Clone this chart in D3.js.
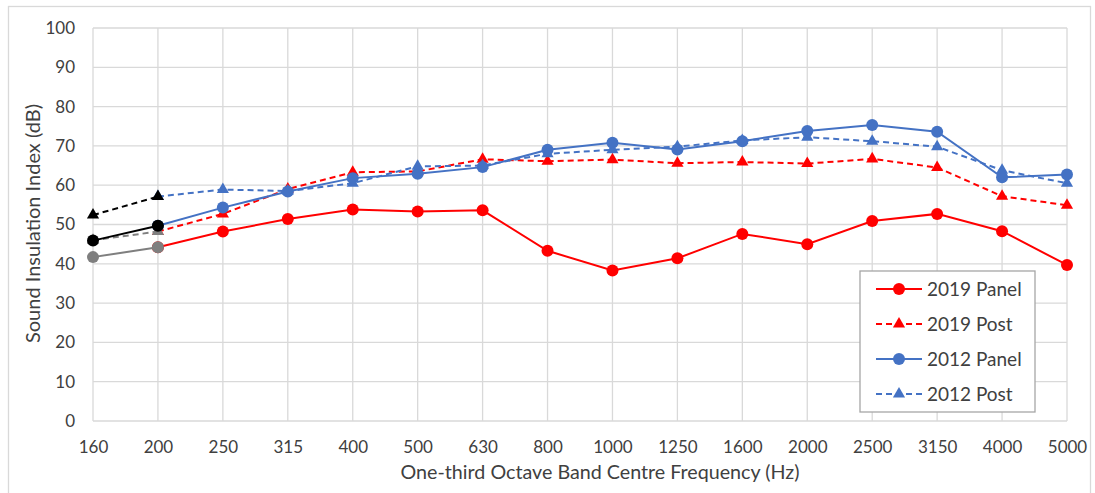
<!DOCTYPE html>
<html>
<head>
<meta charset="utf-8">
<script src="https://cdn.jsdelivr.net/npm/d3@7"></script>
<style>
	body { margin: 0; background: #fff; }
	svg { font-family: Lato, "Open Sans", sans-serif; }
	.grid line { stroke: #d9d9d9; stroke-width: 1.3; }
</style>
</head>
<body>
<svg width="1095" height="493"></svg>
<script>
// band centre frequencies (Hz)
var bands = ["160", "200", "250", "315", "400", "500", "630", "800", "1000", "1250", "1600", "2000", "2500", "3150", "4000", "5000"];
var yTicks = [0, 10, 20, 30, 40, 50, 60, 70, 80, 90, 100];

// values from 200 Hz upwards for the four legend series
var panel2019 = [44.2, 48.2, 51.4, 53.8, 53.3, 53.6, 43.3, 38.3, 41.4, 47.6, 45.0, 50.9, 52.7, 48.3, 39.7];
var post2019 = [48.2, 52.7, 59.0, 63.3, 63.5, 66.6, 66.1, 66.5, 65.6, 65.9, 65.5, 66.7, 64.5, 57.2, 54.9];
var panel2012 = [49.7, 54.3, 58.4, 61.8, 62.9, 64.6, 69.0, 70.8, 69.1, 71.2, 73.8, 75.3, 73.6, 62.0, 62.7];
var post2012 = [57.1, 58.9, 58.5, 60.5, 64.8, 65.0, 68.0, 69.0, 69.8, 71.4, 72.2, 71.2, 69.8, 63.8, 60.5];

// low-frequency extension (160-200 Hz), not in legend
var lowBands = ["160", "200"];
var lowPanelGrey = [41.7, 44.2];
var lowPostGrey = [46.0, 48.2];
var lowPanelBlack = [45.9, 49.7];
var lowPostBlack = [52.4, 57.1];

var series = [
	{ name: "2019 Panel", x: bands.slice(1), y: panel2019, color: "#ff0000", dash: null, marker: "circle", legend: true },
	{ name: "2019 Post", x: bands.slice(1), y: post2019, color: "#ff0000", dash: "6,4", marker: "triangle", legend: true },
	{ name: "2012 Panel", x: bands.slice(1), y: panel2012, color: "#4472c4", dash: null, marker: "circle", legend: true },
	{ name: "2012 Post", x: bands.slice(1), y: post2012, color: "#4472c4", dash: "6,4", marker: "triangle", legend: true },
	{ name: "grey panel", x: lowBands, y: lowPanelGrey, color: "#7f7f7f", dash: null, marker: "circle" },
	{ name: "grey post", x: lowBands, y: lowPostGrey, color: "#7f7f7f", dash: "6,4", marker: "triangle" },
	{ name: "black panel", x: lowBands, y: lowPanelBlack, color: "#000000", dash: null, marker: "circle" },
	{ name: "black post", x: lowBands, y: lowPostBlack, color: "#000000", dash: "6,4", marker: "triangle" },
];

var svg = d3.select("svg"),
	margin = {top: 28, right: 28, bottom: 72, left: 93},
	width = +svg.attr("width") - margin.left - margin.right,
	height = +svg.attr("height") - margin.top - margin.bottom;

// outer chart frame
svg.append("rect")
	.attr("x", 8.5).attr("y", 6.5)
	.attr("width", 1082).attr("height", 500)
	.attr("fill", "none").attr("stroke", "#d9d9d9").attr("stroke-width", 1.3);

var g = svg.append("g").attr("transform", "translate(" + margin.left + "," + margin.top + ")");

var x = d3.scalePoint().domain(bands).range([0, width]);
var y = d3.scaleLinear().domain([0, 100]).range([height, 0]);

// gridlines
var grid = g.append("g").attr("class", "grid");
grid.selectAll(".h").data(yTicks).enter().append("line")
	.attr("x1", 0).attr("x2", width)
	.attr("y1", function(d) { return y(d); }).attr("y2", function(d) { return y(d); });
grid.selectAll(".v").data(bands).enter().append("line")
	.attr("x1", function(d) { return x(d); }).attr("x2", function(d) { return x(d); })
	.attr("y1", 0).attr("y2", height);

// axes (text only, Excel style)
var xAxis = g.append("g")
	.attr("transform", "translate(0," + height + ")")
	.call(d3.axisBottom(x).tickSize(0).tickPadding(20));
var yAxis = g.append("g")
	.call(d3.axisLeft(y).tickValues(yTicks).tickSize(0).tickPadding(18));
[xAxis, yAxis].forEach(function(a) {
	a.select(".domain").remove();
	a.selectAll("text").attr("font-size", 17).attr("fill", "#404040")
		.attr("font-family", "Lato, 'Open Sans', sans-serif");
});

svg.append("text")
	.attr("x", 600).attr("y", 479)
	.attr("text-anchor", "middle").attr("font-size", 19.7).attr("fill", "#404040")
	.text("One-third Octave Band Centre Frequency (Hz)");
svg.append("text")
	.attr("transform", "translate(40," + (margin.top + height / 2 - 1) + ") rotate(-90)")
	.attr("text-anchor", "middle").attr("font-size", 20).attr("fill", "#404040")
	.text("Sound Insulation Index (dB)");

var triangle = d3.symbol().type(d3.symbolTriangle).size(64);

function drawMarker(sel, s) {
	if (s.marker == "circle") {
		sel.append("circle").attr("r", 6).attr("fill", s.color);
	} else {
		sel.append("path").attr("d", triangle).attr("fill", s.color);
	}
}

var line = d3.line()
	.x(function(d) { return x(d[0]); })
	.y(function(d) { return y(d[1]); });

series.forEach(function(s) {
	var pts = s.x.map(function(b, i) { return [b, s.y[i]]; });
	var sg = g.append("g");
	sg.append("path")
		.datum(pts)
		.attr("d", line)
		.attr("fill", "none")
		.attr("stroke", s.color)
		.attr("stroke-width", 2)
		.attr("stroke-dasharray", s.dash);
	sg.selectAll("g.pt").data(pts).enter().append("g")
		.attr("class", "pt")
		.attr("transform", function(d) { return "translate(" + x(d[0]) + "," + y(d[1]) + ")"; })
		.each(function() { drawMarker(d3.select(this), s); });
});

// legend
var legendSeries = series.filter(function(s) { return s.legend; });
var lg = svg.append("g").attr("transform", "translate(860,271)");
lg.append("rect")
	.attr("width", 175).attr("height", 141)
	.attr("fill", "#fff").attr("stroke", "#a6a6a6").attr("stroke-width", 1.3);
var item = lg.selectAll("g.item").data(legendSeries).enter().append("g")
	.attr("class", "item")
	.attr("transform", function(d, i) { return "translate(0," + (18 + i * 35) + ")"; });
item.append("line")
	.attr("x1", 16).attr("x2", 62)
	.attr("stroke", function(d) { return d.color; })
	.attr("stroke-width", 2)
	.attr("stroke-dasharray", function(d) { return d.dash; });
item.append("g").attr("transform", "translate(39,0)")
	.each(function(d) { drawMarker(d3.select(this), d); });
item.append("text")
	.attr("x", 67).attr("dy", "0.35em")
	.attr("font-size", 19).attr("fill", "#404040")
	.text(function(d) { return d.name; });
</script>
</body>
</html>
